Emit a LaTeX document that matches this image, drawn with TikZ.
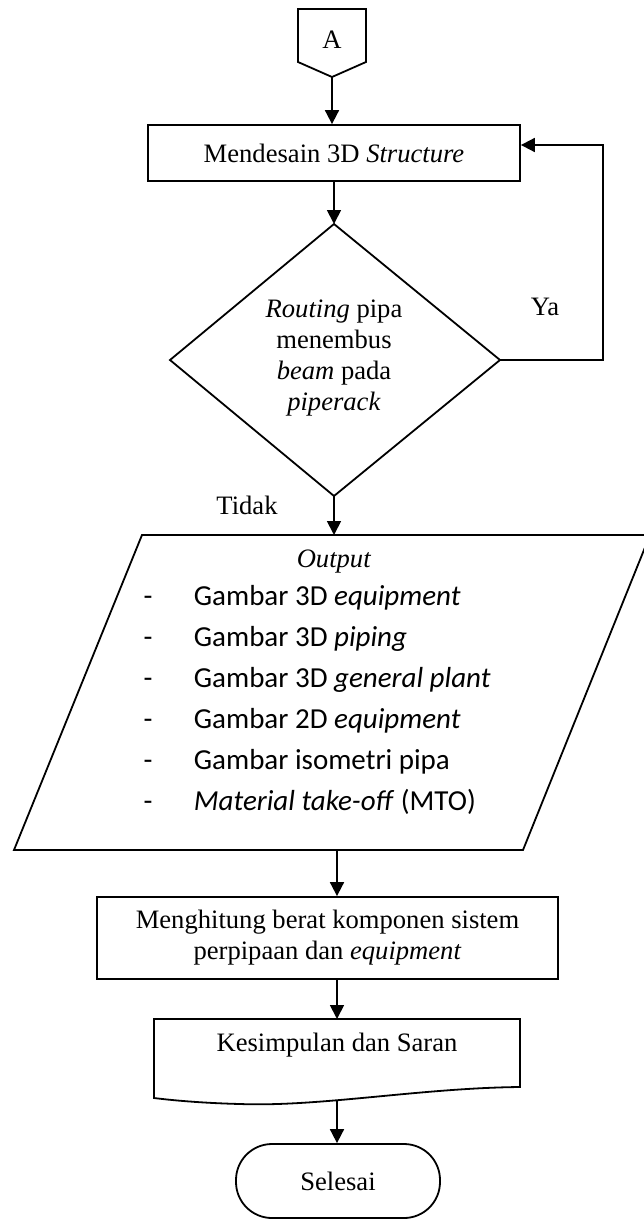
\documentclass[tikz,border=0pt]{standalone}
\usepackage{fontspec}
\setmainfont{Liberation Serif}
\newfontfamily\calib{Carlito}
\usetikzlibrary{arrows.meta}
\begin{document}
\begin{tikzpicture}[x=0.5pt,y=-0.5pt,
  line width=0.9pt,
  flow/.style={-{Triangle[length=7pt,width=7pt]}},
  txt/.style={inner sep=0pt, font=\fontsize{13.3}{15.5}\selectfont, align=center},
  boxed/.style={draw, txt},
  itm/.style={inner sep=0pt, anchor=base west, font=\calib\fontsize{14.5}{17}\selectfont},
  dsh/.style={inner sep=0pt, anchor=base, font=\calib\fontsize{14.5}{17}\selectfont},
]
\useasboundingbox (0,0) rectangle (643,1220);
% off-page connector A
\coordinate (Ap) at (332,77);
\draw (298,9) -- (366,9) -- (366,62) -- (Ap) -- (298,62) -- cycle;
\node[txt] (A) at (332,40) {A};
% box 1
\node[boxed, minimum width=186pt, minimum height=28pt] (b1) at (334,153) {Mendesain 3D \textit{Structure}};
\draw[flow] (Ap) -- (Ap |- b1.north);
% decision
\coordinate (dt) at (334,224);
\coordinate (dl) at (170,360);
\coordinate (dr) at (500,360);
\coordinate (db) at (334,496);
\draw (dt) -- (dr) -- (db) -- (dl) -- cycle;
\node[txt] (dtext) at (334,358) {\textit{Routing} pipa\\menembus\\\textit{beam} pada\\\textit{piperack}};
\draw[flow] (b1.south -| dt) -- (dt);
% loop Ya
\coordinate (lp) at (603,145);
\draw[flow] (dr) -| (lp) -- (lp -| b1.east);
\node[txt] (ya) at (545,307) {Ya};
\node[txt] (tidak) at (247,505) {Tidak};
% parallelogram output
\coordinate (pTL) at (142,535);
\coordinate (pTR) at (650,535);
\coordinate (pBR) at (523,850);
\coordinate (pBL) at (14,850);
\draw (pTL) -- (pTR) -- (pBR) -- (pBL) -- cycle;
\draw[flow] (db) -- (db |- pTL);
\node[txt] (out) at (334,562) {\textit{Output}};
\foreach \yy/\t [count=\i] in {605/{Gambar 3D \textit{equipment}},
  646/{Gambar 3D \textit{piping}},
  687/{Gambar 3D \textit{general plant}},
  728/{Gambar 2D \textit{equipment}},
  769/{Gambar isometri pipa},
  810/{\textit{Material take-off} (MTO)}}{
  \node[dsh] (d\i) at (148,\yy) {-};
  \node[itm] (it\i) at (193,\yy) {\t};
}
% box 2
\coordinate (pB) at (337,850);
\node[boxed, minimum width=230.5pt, minimum height=41pt] (b2) at (327.5,938) {Menghitung berat komponen sistem\\perpipaan dan \textit{equipment}};
\draw[flow] (pB) -- (pB |- b2.north);
% document
\coordinate (dtop) at (337,1019);
\coordinate (dbot) at (337,1101);
\draw (154,1019) -- (520,1019) -- (520,1087)
  .. controls (420,1088) and (320,1107) .. (240,1104)
  .. controls (200,1103) and (170,1100) .. (154,1098) -- cycle;
\node[txt] (doc) at (337,1045) {Kesimpulan dan Saran};
\draw[flow] (b2.south -| dtop) -- (dtop);
% terminal
\node[draw, txt, rounded corners=18pt, minimum width=102pt, minimum height=37pt] (term) at (338,1181) {Selesai};
\draw[flow] (dbot) -- (dbot |- term.north);
\end{tikzpicture}
\end{document}
